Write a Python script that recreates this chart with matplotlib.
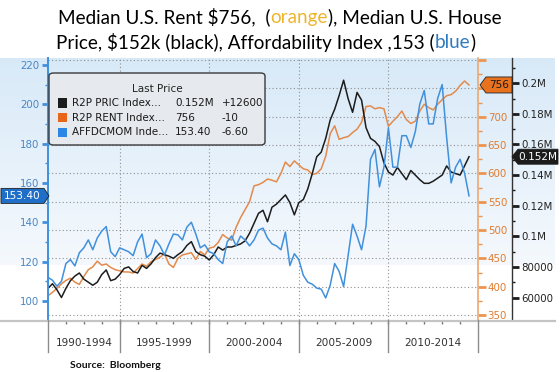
import numpy as np
import pandas as pd
import matplotlib
matplotlib.use("Agg")
import matplotlib.pyplot as plt
from matplotlib.patches import Polygon, FancyBboxPatch, Rectangle
from matplotlib.lines import Line2D
from matplotlib.ticker import FixedLocator, NullFormatter

# ---------------- data (quarterly, 1991Q1 .. 2014Q3) ----------------
dates = pd.date_range("1991-01-01", periods=95, freq="QS")
years = dates.year + (dates.month - 1) / 12.0

afford = [112, 110.5, 107.5, 110, 119, 121, 117.8, 124.5, 127, 131,
          126, 132, 135.5, 137.8, 125, 122.5, 127, 126, 125, 123,
          130, 134, 122, 124, 131, 128, 123.4, 129, 134, 133.6,
          131, 137.5, 140, 134, 127, 128.5, 125, 124, 121, 119,
          130, 133, 128, 133, 131, 128, 131, 136, 137, 132,
          129, 128, 126, 135, 118, 124, 121, 113, 109.5, 108.5,
          106.5, 106, 101.5, 108, 119, 115, 107.3, 123, 139, 133,
          126, 138, 172, 177, 158, 168, 188, 168, 168, 184,
          184, 178, 186, 200, 207, 190, 190, 203, 210, 183,
          160, 168, 172, 165, 153.4]

rent = [384, 390, 397, 405, 411, 415, 408, 404, 418, 430,
        435, 445, 438, 440, 434, 430, 428, 426, 426, 424,
        432, 440, 436, 444, 448, 452, 458, 440, 434, 450,
        456, 458, 460, 448, 462, 456, 468, 470, 478, 492,
        486, 482, 505, 522, 536, 550, 578, 580, 584, 590,
        588, 585, 600, 620, 612, 622, 615, 608, 606, 598,
        600, 608, 630, 670, 684, 660, 663, 665, 672, 678,
        690, 718, 719, 714, 716, 714, 683, 692, 700, 710,
        695, 688, 692, 710, 722, 716, 712, 722, 730, 737,
        739, 745, 755, 763, 756]

price_k = [66, 69, 65, 60, 66, 71, 74, 76, 72, 70,
           68, 70, 75, 78, 71, 72, 75, 79, 80, 77,
           76, 81, 79, 82, 86, 89, 88, 87, 85.6, 88,
           90, 94, 96.5, 90, 88, 87, 84.5, 88, 93, 91,
           93, 93, 94, 95, 97, 102, 108.5, 115, 117, 109.5,
           119, 121, 124, 127, 122, 114, 122, 124, 131, 141,
           152, 155, 164, 176, 183, 192, 202, 190, 181, 194,
           189, 171, 164, 162, 158.6, 148, 142, 140, 145, 141,
           137, 143, 140, 137, 134.6, 134.6, 136, 138, 140, 146,
           142, 141, 140, 146, 152]

periods = ["1990-1994", "1995-1999", "2000-2004", "2005-2009", "2010-2014"]
period_edges = [1991, 1995, 2000, 2005, 2010, 2015]
left_ticks = [100, 120, 140, 160, 180, 200, 220]
rent_ticks = [350, 400, 450, 500, 550, 600, 650, 700, 750, 800]
rent_labels = ["350", "400", "450", "500", "550", "600", "650", "700", "", ""]
price_ticks = [60, 80, 100, 120, 140, 160, 180, 200]
price_labels = ["60000", "80000", "0.1M", "0.12M", "0.14M", "0.16M", "0.18M", "0.2M"]

legend_names = ["R2P PRIC Index...", "R2P RENT Index...", "AFFDCMOM Inde..."]
legend_last = ["0.152M", "756", "153.40"]
legend_chg = ["+12600", "-10", "-6.60"]

# ---------------- styling ----------------
BLUE = "#4090dc"
BLUE_TXT = "#4a86c6"
ORANGE = "#e38a4c"
ORANGE_TXT = "#e07c30"
BLACK = "#1c1c1c"

W, H = 560, 372
fig = plt.figure(figsize=(W / 100, H / 100), dpi=100)
fig.patch.set_facecolor("white")


def fx(x):
    return x / W


def fy(y):
    return 1 - y / H


# background gradient
bg = fig.add_axes([0, fy(265), fx(555), fy(58) - fy(265)], zorder=-5)
n = 200
top = np.array([0.845, 0.915, 0.972])
bot = np.array([0.960, 0.975, 0.992])
t = np.linspace(0, 1, n)[:, None]
grad = (top * (1 - t) + bot * t)[:, None, :]
bg.imshow(grad, aspect="auto", extent=[0, 1, 0, 1], interpolation="bilinear")
bg.axis("off")

# main axes
ax = fig.add_axes([fx(48), fy(320), fx(478) - fx(48), fy(58) - fy(320)])
ax2 = ax.twinx()
ax3 = ax.twinx()
ax.set_zorder(3)
ax.patch.set_visible(False)
ax2.set_zorder(1)
ax3.set_zorder(2)

ax.set_xlim(1991, 2015)
ax.set_ylim(90.3, 223.5)
ax2.set_ylim(341.2, 803.6)
ax3.set_ylim(45.3, 216.5)

ax2.plot(years, rent, color=ORANGE, lw=1.1)
ax3.plot(years, price_k, color=BLACK, lw=1.1)
ax.plot(years, afford, color=BLUE, lw=1.1)

# grid
GRID_LS = (0, (1.0, 2.2))
for yv in rent_ticks:
    ax2.axhline(yv, color="#8f8f8f", lw=0.8, ls=GRID_LS, zorder=0)
for xv in period_edges[1:]:
    ax2.axvline(xv, color="#8f8f8f", lw=0.8, ls=GRID_LS, zorder=0)

# spines
for a in (ax, ax2, ax3):
    for s in a.spines.values():
        s.set_visible(False)
ax.spines["left"].set_visible(True)
ax.spines["left"].set_color(BLUE)
ax.spines["left"].set_linewidth(1.4)
ax2.spines["right"].set_visible(True)
ax2.spines["right"].set_color("#eea870")
ax2.spines["right"].set_linewidth(1.2)
ax3.spines["right"].set_visible(True)
ax3.spines["right"].set_position(("axes", 1.078))
ax3.spines["right"].set_color("#333333")
ax3.spines["right"].set_linewidth(1.0)

# left axis
ax.set_yticks(left_ticks)
ax.set_yticklabels([str(v) for v in left_ticks])
ax.yaxis.set_minor_locator(FixedLocator([110, 130, 150, 170, 190, 210]))
ax.tick_params(axis="y", which="major", colors=BLUE, labelcolor=BLUE_TXT,
               length=4, width=2, labelsize=7.4, pad=2)
ax.tick_params(axis="y", which="minor", colors=BLUE, length=2.5, width=1)

# orange axis
ax2.set_yticks(rent_ticks)
ax2.set_yticklabels(rent_labels)
ax2.yaxis.set_minor_locator(FixedLocator([375, 425, 475, 525, 575, 625, 675, 725, 775]))
ax2.tick_params(axis="y", which="major", colors="#eb9550", labelcolor=ORANGE_TXT,
                length=6, width=2, labelsize=7.4, pad=1)
ax2.tick_params(axis="y", which="minor", colors="#eb9550", length=3, width=1)

# black axis
ax3.set_yticks(price_ticks)
ax3.set_yticklabels(price_labels)
ax3.yaxis.set_minor_locator(FixedLocator([70, 90, 110, 130, 150, 170, 190, 210]))
ax3.tick_params(axis="y", which="major", colors=BLACK, labelcolor="#222222",
                length=5, width=2, labelsize=7.4, pad=2)
ax3.tick_params(axis="y", which="minor", colors=BLACK, length=2.5, width=1)

# x axis
for a in (ax, ax2, ax3):
    a.set_xticks([])
ax.xaxis.set_minor_locator(FixedLocator(list(range(1992, 2015))))
ax.xaxis.set_minor_formatter(NullFormatter())
ax.tick_params(axis="x", which="minor", colors="#777777", length=3, width=1, direction="out")

# bottom rule and period separators
fig.add_artist(Line2D([0, fx(555)], [fy(320.5), fy(320.5)], color="#c4c4c4", lw=1.6,
                      transform=fig.transFigure, zorder=4))
for e in period_edges:
    xd = ax.transData.transform((e, 0))[0]
    fig.add_artist(Line2D([xd / W, xd / W], [fy(320), fy(352)], color="#8c8c8c", lw=1.0,
                          transform=fig.transFigure, zorder=4))
for i, p in enumerate(periods):
    xc = (period_edges[i] + period_edges[i + 1]) / 2
    ax.text(xc, -22.5 / 262, p, transform=ax.get_xaxis_transform(), ha="center",
            va="center", fontsize=7.6, color="#333333")


# ---------------- value tags ----------------
def ypix(a, v):
    return H - a.transData.transform((0, v))[1]


def tag(x0, x1, tip_x, yc, h, fc, text, tc, tip_right):
    hh = h / 2
    if tip_right:
        pts = [(x0, yc - hh), (x1, yc - hh), (tip_x, yc), (x1, yc + hh), (x0, yc + hh)]
    else:
        pts = [(tip_x, yc), (x0, yc - hh), (x1, yc - hh), (x1, yc + hh), (x0, yc + hh)]
    poly = Polygon([(fx(px), fy(py)) for px, py in pts], closed=True, fc=fc,
                   ec="#202020" if fc != BLACK else fc, lw=0.6,
                   transform=fig.transFigure, zorder=10)
    fig.add_artist(poly)
    fig.text(fx((x0 + x1) / 2), fy(yc), text, ha="center", va="center", color=tc,
             fontsize=7.6, zorder=11)


tag(1, 44, 49, ypix(ax, afford[-1]), 15, "#1f6fc8", legend_last[2], "white", True)
tag(486, 512, 480, ypix(ax2, rent[-1]), 16, "#e8721e", legend_last[1], "#1a1a1a", False)
tag(518, 558, 512, ypix(ax3, price_k[-1]), 15, BLACK, legend_last[0], "white", False)

# ---------------- legend box ----------------
box = FancyBboxPatch((fx(49), fy(145)), fx(265) - fx(49), fy(73) - fy(145),
                     boxstyle="round,pad=0,rounding_size=0.008",
                     transform=fig.transFigure, fc="#e6e9ed", ec="#3a3a3a", lw=1.0,
                     zorder=10)
fig.add_artist(box)
LEG_FS = 7.5
fig.text(fx(157), fy(89), "Last Price", ha="center", va="center", fontsize=LEG_FS,
         color="#222222", zorder=11)
sw_colors = [BLACK, "#e8661a", "#2b86e6"]
row_y = [103, 117.5, 132]
for i in range(3):
    fig.add_artist(Rectangle((fx(57.5), fy(row_y[i] + 4.5)), fx(9),
                             fy(row_y[i] - 4.5) - fy(row_y[i] + 4.5),
                             transform=fig.transFigure, fc=sw_colors[i], ec="none", zorder=11))
    fig.text(fx(72), fy(row_y[i]), legend_names[i], ha="left", va="center",
             fontsize=LEG_FS, color="#1a1a1a", zorder=11)
    fig.text(fx(175), fy(row_y[i]), legend_last[i], ha="left", va="center",
             fontsize=LEG_FS, color="#1a1a1a", zorder=11)
    fig.text(fx(222), fy(row_y[i]), legend_chg[i], ha="left", va="center",
             fontsize=LEG_FS, color="#1a1a1a", zorder=11)

# ---------------- title ----------------
renderer = fig.canvas.get_renderer()
TITLE_FONT = ["Lato", "DejaVu Sans"]


def rich_line(pieces, cx, cy, size):
    texts = []
    for s, c in pieces:
        texts.append(fig.text(0, fy(cy), s, color=c, fontsize=size, family=TITLE_FONT,
                              ha="left", va="center", parse_math=False))
    widths = [tx.get_window_extent(renderer).width for tx in texts]
    x = cx - sum(widths) / 2
    for tx, w in zip(texts, widths):
        tx.set_x(fx(x))
        x += w
    return texts, sum(widths)


line1 = [("Median U.S. Rent $756,  (", "black"), ("orange", "#eeb52c"),
         ("), Median U.S. House", "black")]
line2 = [("Price, $152k (black), Affordability Index ,153 (", "black"),
         ("blue", "#2f7bbf"), (")", "black")]

probe = fig.text(0, 0, "".join(s for s, _ in line1), fontsize=13, family=TITLE_FONT,
                 parse_math=False)
pw = probe.get_window_extent(renderer).width
probe.remove()
tsize = 13 * 440 / pw
rich_line(line1, 280, 17, tsize)
rich_line(line2, 266, 42, tsize)

fig.text(fx(70), fy(365), "Source:  Bloomberg", ha="left", va="center", fontsize=7.5,
         fontweight="bold", family=["Lato", "DejaVu Sans"], color="#111111")

fig.savefig("out.png", dpi=100)
